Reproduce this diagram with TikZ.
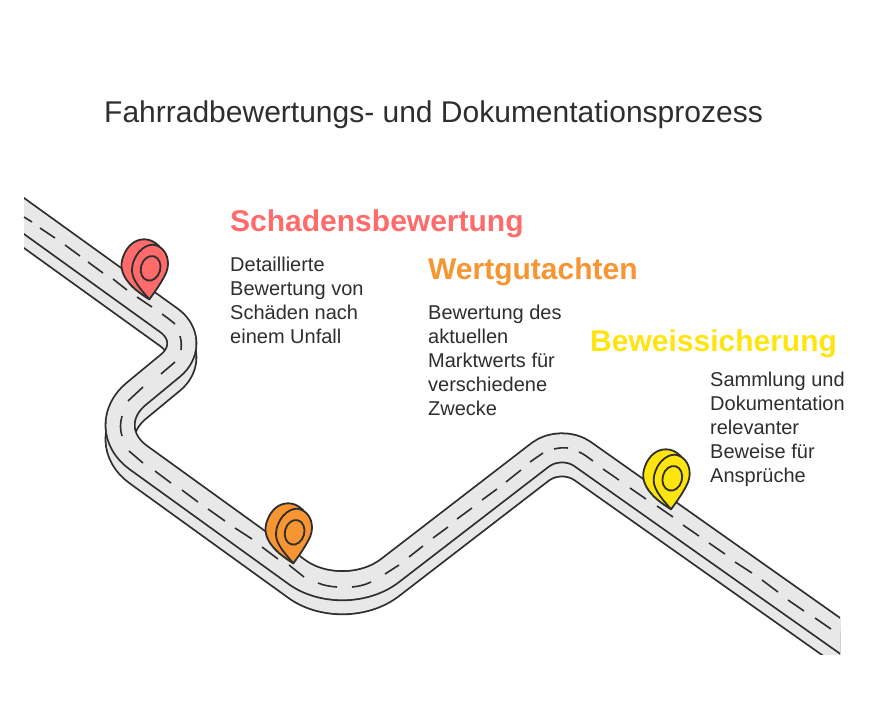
\documentclass[tikz,border=0pt]{standalone}
\usepackage{fontspec}
\setmainfont{Liberation Sans}
\definecolor{ink}{HTML}{2E2E2E}
\definecolor{roadgray}{HTML}{E8E8E8}
\definecolor{pinred}{HTML}{FF6B6B}
\definecolor{pinorange}{HTML}{F79532}
\definecolor{pinyellow}{HTML}{FFE50F}
\newcommand{\roadline}{(-5,195) -- (24,216) [rounded corners=37pt] -- (199,342) [rounded corners=52pt] -- (96,427) [rounded corners=58pt] -- (344,606) [rounded corners=26pt] -- (561,438.8) [sharp corners] -- (880,664)}
\tikzset{
 x=1pt,y=-1pt,
 outer/.style={draw=ink,line width=30.9pt,line join=round},
 inner/.style={draw=roadgray,line width=27.3pt,line join=round},
 centre/.style={draw=ink,line width=1.6pt},
 pinline/.style={draw=ink,line width=1.8pt,line join=round},
 title/.style={anchor=base west,inner sep=0pt,font=\fontsize{30}{34}\selectfont,text=ink},
 head/.style={anchor=base west,inner sep=0pt,font=\fontsize{30}{34}\selectfont\bfseries},
 body/.style={anchor=north west,inner sep=0pt,align=left,font=\fontsize{20}{24}\selectfont,text=ink},
 pics/mappin/.style={code={
  \path[pinline,fill=#1] (0,0) .. controls (-8,-5) and (-15,-10) .. (-20,-16) .. controls (-27,-24) and (-30,-33) .. (-26,-43) .. controls (-22,-54) and (-14,-60) .. (-5,-60) .. controls (0,-60) and (5,-58) .. (10,-53) -- cycle;
  \path[pinline,fill=#1] (0,0) .. controls (6,-8) and (13,-18) .. (17,-27) .. controls (21,-37) and (18,-50) .. (7,-54) .. controls (-1,-57) and (-14,-49) .. (-17,-33) .. controls (-19,-22) and (-12,-14) .. (0,0) -- cycle;
  \path[pinline,fill=#1] (1.3,-31) ellipse[x radius=9.7,y radius=12.5,rotate=-15];
 }}
}
\begin{document}
\begin{tikzpicture}
\useasboundingbox (0,0) rectangle (894,702);
\fill[white] (0,0) rectangle (894,702);
\begin{scope}
\clip (24,150) rectangle (840,654);
\begin{scope}[yshift=-14pt]
\draw[outer] \roadline;
\draw[inner] \roadline;
\end{scope}
\draw[outer] \roadline;
\draw[inner] \roadline;
\end{scope}
% centre dashes
\foreach \xa/\ya/\xb/\yb in {24/217/32/222,40/228/55/238,65/245/80/256,88/262/103/273,113/279/127/290,137/297/152/307,
 129/451/143/463,155/471/171/483,182/490/198/502,208/509/225/521,235/528/252/539,262/547/278/559,
 385/574/399/565,409/557/423/546,433/538/448/527,457/519/472/508,482/500/497/489,506/482/521/470,530/462/543/453,
 603/469/619/480,630/488/646/499,657/506/673/517,683/525/699/536,709/543/725/554,735/562/752/573,762/580/778/592,788/600/804/611,815/618/831/629,
 175/362/161/374,143/387/128/401}
 \draw[centre] (\xa,\ya) -- (\xb,\yb);
\draw[centre] (162,314) .. controls (167,317.5) and (171,320.5) .. (175,324);
\draw[centre] (180,336) .. controls (181.5,341) and (181.5,345) .. (181,350);
\draw[centre] (122,416) .. controls (120,423) and (120,430) .. (122,436);
\draw[centre] (289,565) .. controls (294,569) and (299,573) .. (304,577);
\draw[centre] (318,583) .. controls (324,585.5) and (330,586.5) .. (337,587);
\draw[centre] (352,587) .. controls (358,586.5) and (365,585) .. (371,582);
\draw[centre] (554,449) .. controls (558,448) and (563,447.5) .. (568,448);
\draw[centre] (579,452) .. controls (584,454) and (588,457.5) .. (593,461);
\pic at (149.3,299.3) {mappin=pinred};
\pic at (293.3,563.3) {mappin=pinorange};
\pic at (671,509.3) {mappin=pinyellow};
\node[title] (t) at (104,122.5) {Fahrradbewertungs- und Dokumentationsprozess};
\node[head,text=pinred] (h1) at (230,231) {Schadensbewertung};
\node[head,text=pinorange] (h2) at (428,279) {Wertgutachten};
\node[head,text=pinyellow] (h3) at (590,351) {Beweissicherung};
\node[body] (b1) at (230,257) {Detaillierte\\Bewertung von\\Schäden nach\\einem Unfall};
\node[body] (b2) at (428,305) {Bewertung des\\aktuellen\\Marktwerts für\\verschiedene\\Zwecke};
\node[body] (b3) at (710,372) {Sammlung und\\Dokumentation\\relevanter\\Beweise für\\Ansprüche};
\end{tikzpicture}
\end{document}
